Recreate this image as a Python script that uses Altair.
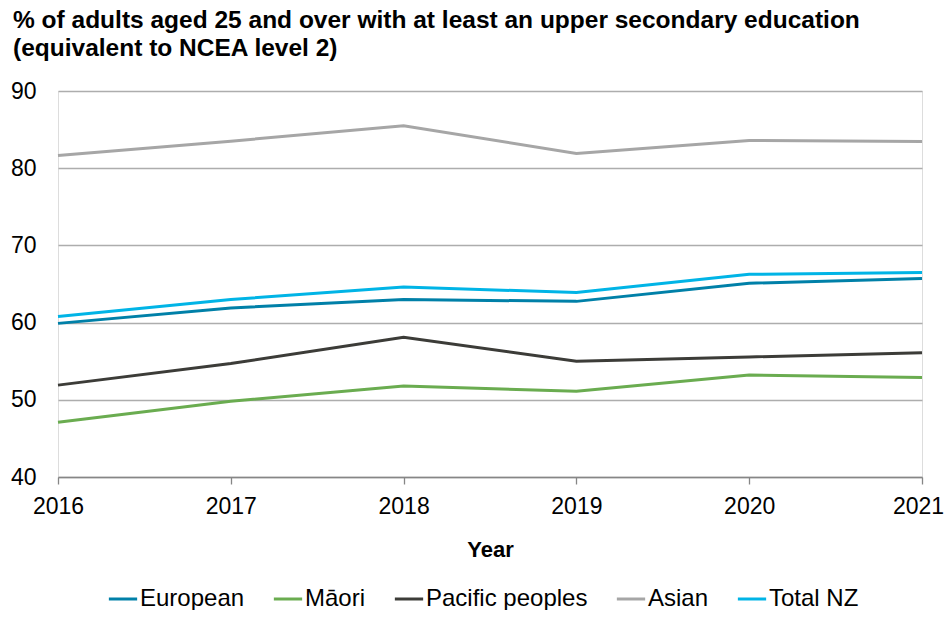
import altair as alt
import pandas as pd

years = [2016, 2017, 2018, 2019, 2020, 2021]
european = [59.9, 61.9, 63.0, 62.75, 65.1, 65.7]
maori = [47.1, 49.8, 51.8, 51.1, 53.2, 52.9]
pacific = [51.9, 54.7, 58.1, 55.0, 55.55, 56.1]
asian = [81.64, 83.5, 85.5, 81.9, 83.6, 83.45]
total_nz = [60.8, 63.0, 64.6, 63.9, 66.25, 66.5]

series_names = ["European", "Māori", "Pacific peoples", "Asian", "Total NZ"]
series_values = [european, maori, pacific, asian, total_nz]
series_colors = ["#0080A8", "#6AAC50", "#3C3C38", "#A6A6A6", "#00B4E6"]

rows = []
for name, vals in zip(series_names, series_values):
    for y, v in zip(years, vals):
        rows.append({"Year": y, "Value": v, "Group": name})
df = pd.DataFrame(rows)

FONT = "Liberation Sans"

chart = (
    alt.Chart(df)
    .mark_line(strokeWidth=3)
    .encode(
        x=alt.X(
            "Year:Q",
            scale=alt.Scale(domain=[2016, 2021], nice=False, zero=False),
            axis=alt.Axis(
                values=years,
                format="d",
                title="Year",
                grid=False,
                labelFlush=False,
                labelOffset={"condition": {"test": "datum.value == 2021", "value": -4}, "value": 0},
                domainColor="#868686",
                domainWidth=1.3,
                tickColor="#868686",
                tickSize=7,
                tickWidth=1.3,
                labelFontSize=23,
                labelColor="#000000",
                labelPadding=11,
                titleFontSize=22,
                titleFontWeight="bold",
                titleColor="#000000",
                titlePadding=21,
            ),
        ),
        y=alt.Y(
            "Value:Q",
            scale=alt.Scale(domain=[40, 90], nice=False, zero=False),
            axis=alt.Axis(
                values=[40, 50, 60, 70, 80, 90],
                title=None,
                domain=False,
                ticks=False,
                gridColor="#ADADAD",
                gridWidth=1.3,
                labelFontSize=23,
                labelColor="#000000",
                labelPadding=22,
            ),
        ),
        color=alt.Color(
            "Group:N",
            sort=series_names,
            scale=alt.Scale(domain=series_names, range=series_colors),
            legend=alt.Legend(
                title=None,
                orient="none",
                legendX=49,
                legendY=492,
                direction="horizontal",
                symbolType="stroke",
                symbolSize=800,
                symbolStrokeWidth=3,
                labelFontSize=24,
                labelLimit=400,
                labelColor="#000000",
                labelOffset=1,
                columnPadding=22,
            ),
        ),
    )
    .properties(
        width=864,
        height=386,
        autosize=alt.AutoSizeParams(type="none"),
        padding={"left": 50, "top": 83, "right": 22, "bottom": 133},
        title=alt.TitleParams(
            text=[
                "% of adults aged 25 and over with at least an upper secondary education",
                "(equivalent to NCEA level 2)",
            ],
            anchor="start",
            frame="group",
            dx=-45,
            fontSize=24.5,
            fontWeight="bold",
            font=FONT,
            color="#000000",
            lineHeight=28,
            offset=19,
        ),
    )
    .configure_view(stroke=None)
    .configure(font=FONT)
)

chart.save("out.html", embed_options={"renderer": "svg", "actions": False})
